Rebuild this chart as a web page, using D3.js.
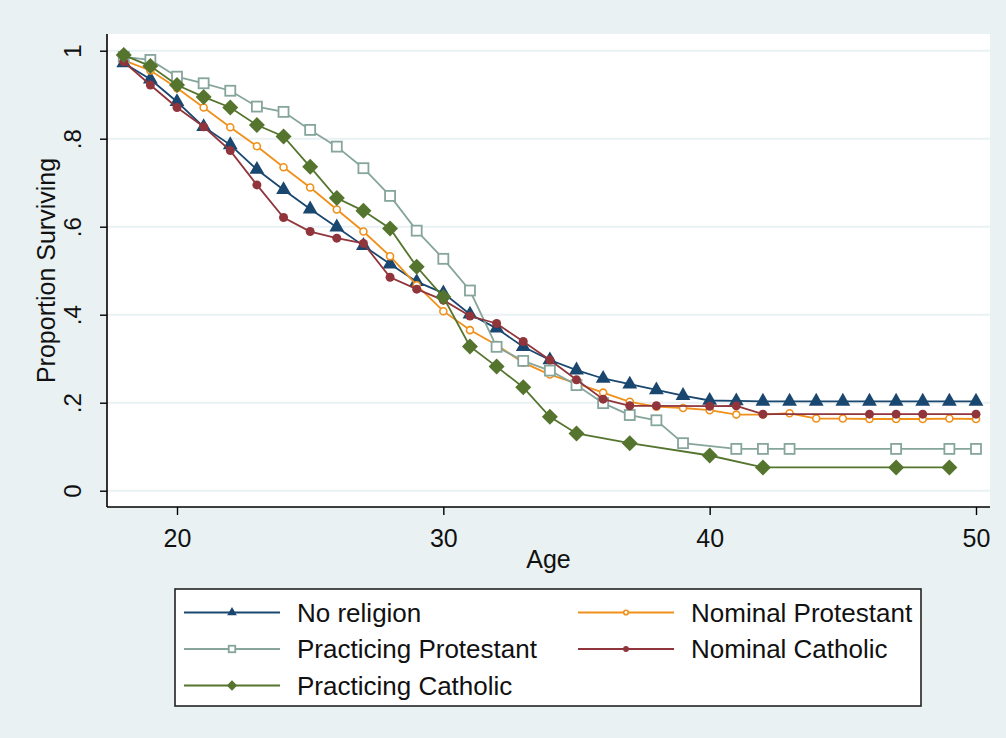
<!DOCTYPE html>
<html>
<head>
<meta charset="utf-8">
<script src="https://cdn.jsdelivr.net/npm/d3@7"></script>
<style>
  html, body { margin: 0; padding: 0; background: #e9f1f3; }
  svg text { font-family: "Liberation Sans", Arial, sans-serif; fill: #111; }
</style>
</head>
<body>
<div id="chart"></div>
<script>
// ages 18..50, null = no marker at that age
const ages = d3.range(18, 51);

const noReligion = [0.972, 0.935, 0.884, 0.827, 0.786, 0.730, 0.684, 0.640, 0.599, 0.557, 0.515, 0.475, 0.449, 0.401, 0.369,
  0.327, 0.297, 0.274, 0.255, 0.242, 0.229, 0.216, 0.205, 0.204, 0.203, 0.203, 0.203, 0.203, 0.203, 0.203, 0.203, 0.203, 0.203];
const nominalProtestant = [0.978, 0.955, 0.915, 0.871, 0.826, 0.783, 0.735, 0.689, 0.639, 0.589, 0.533, 0.467, 0.408, 0.365, 0.331,
  0.291, 0.264, 0.244, 0.223, 0.202, 0.191, 0.188, 0.183, 0.173, 0.173, 0.176, 0.164, 0.164, 0.163, 0.163, 0.163, 0.164, 0.163];
const practicingProtestant = [0.986, 0.979, 0.941, 0.926, 0.909, 0.873, 0.861, 0.820, 0.782, 0.733, 0.670, 0.591, 0.527, 0.455, 0.327,
  0.295, 0.273, 0.240, 0.199, 0.172, 0.160, 0.108, null, 0.095, 0.095, 0.095, null, null, null, 0.095, null, 0.095, 0.095];
const nominalCatholic = [0.975, 0.922, 0.871, 0.827, 0.773, 0.695, 0.621, 0.589, 0.574, 0.562, 0.485, 0.458, 0.433, 0.397, 0.380,
  0.339, 0.297, 0.252, 0.208, 0.193, 0.193, null, 0.192, 0.193, 0.174, null, null, null, 0.174, 0.174, 0.174, null, 0.174];
const practicingCatholic = [0.990, 0.965, 0.922, 0.895, 0.871, 0.831, 0.805, 0.736, 0.665, 0.636, 0.596, 0.509, 0.440, 0.328, 0.282,
  0.235, 0.168, 0.130, null, 0.108, null, null, 0.080, null, 0.053, null, null, null, null, 0.053, null, 0.053, null];

const seriesNames = ["No religion", "Nominal Protestant", "Practicing Protestant", "Nominal Catholic", "Practicing Catholic"];
const xTicks = [20, 30, 40, 50];
const yTicks = [0, 0.2, 0.4, 0.6, 0.8, 1];
const yTickLabels = ["0", ".2", ".4", ".6", ".8", "1"];

const series = [
  { name: seriesNames[0], values: noReligion, color: "#1a476f", marker: "triangle" },
  { name: seriesNames[1], values: nominalProtestant, color: "#f0901a", marker: "hcircle" },
  { name: seriesNames[2], values: practicingProtestant, color: "#86a59c", marker: "hsquare" },
  { name: seriesNames[3], values: nominalCatholic, color: "#90353b", marker: "circle" },
  { name: seriesNames[4], values: practicingCatholic, color: "#55752f", marker: "diamond" }
];

const W = 1006, H = 738;
const plot = { left: 107, right: 990, top: 34, bottom: 507 };

const svg = d3.select("#chart").append("svg")
  .attr("width", W).attr("height", H);

svg.append("rect").attr("width", W).attr("height", H).attr("fill", "#e9f1f3");
svg.append("rect")
  .attr("x", plot.left).attr("y", plot.top)
  .attr("width", plot.right - plot.left).attr("height", plot.bottom - plot.top)
  .attr("fill", "#fff");

const x = d3.scaleLinear().domain([20, 50]).range([177, 976]);
const y = d3.scaleLinear().domain([0, 1]).range([490.7, 50.7]);

// gridlines
svg.append("g").selectAll("line").data(yTicks).join("line")
  .attr("x1", plot.left).attr("x2", plot.right)
  .attr("y1", d => y(d)).attr("y2", d => y(d))
  .attr("stroke", "#eaf1f4").attr("stroke-width", 2);

// axes
const yAxis = svg.append("g")
  .attr("transform", `translate(${plot.left},0)`)
  .call(d3.axisLeft(y).tickValues(yTicks).tickSize(7).tickFormat((d, i) => yTickLabels[i]));
yAxis.select(".domain").attr("d", `M0,${plot.top}V${plot.bottom}`).attr("stroke", "#000").attr("stroke-width", 1.6);
yAxis.selectAll(".tick line").attr("stroke", "#000").attr("stroke-width", 1.4);
yAxis.selectAll(".tick text")
  .attr("font-size", 24).attr("x", null).attr("dy", null)
  .attr("text-anchor", "middle")
  .attr("transform", "translate(-35,0) rotate(-90)")
  .attr("dominant-baseline", "central");

const xAxis = svg.append("g")
  .attr("transform", `translate(0,${plot.bottom})`)
  .call(d3.axisBottom(x).tickValues(xTicks).tickSize(8).tickFormat(d3.format("d")));
xAxis.select(".domain").attr("d", `M${plot.left},0H${plot.right}`).attr("stroke", "#000").attr("stroke-width", 1.6);
xAxis.selectAll(".tick line").attr("stroke", "#000").attr("stroke-width", 1.4);
xAxis.selectAll(".tick text").attr("font-size", 25).attr("y", 40).attr("dy", null);

svg.append("text")
  .attr("x", (plot.left + plot.right) / 2).attr("y", 568)
  .attr("text-anchor", "middle").attr("font-size", 25)
  .text("Age");

svg.append("text")
  .attr("transform", `translate(55,${(plot.top + plot.bottom) / 2}) rotate(-90)`)
  .attr("text-anchor", "middle").attr("font-size", 25)
  .text("Proportion Surviving");

// markers
function drawMarker(g, type, color, k) {
  if (type === "triangle") {
    g.append("path").attr("d", d3.symbol(d3.symbolTriangle, 95 * k * k)()).attr("fill", color);
  } else if (type === "diamond") {
    const r = 8 * k;
    g.append("path").attr("d", `M0,${-r}L${r},0L0,${r}L${-r},0Z`).attr("fill", color);
  } else if (type === "hsquare") {
    const r = 5 * k;
    g.append("rect").attr("x", -r).attr("y", -r).attr("width", 2 * r).attr("height", 2 * r)
      .attr("fill", "#fff").attr("stroke", color).attr("stroke-width", 1.8);
  } else if (type === "hcircle") {
    g.append("circle").attr("r", 3.5 * k).attr("fill", "#fff").attr("stroke", color).attr("stroke-width", 1.6);
  } else {
    g.append("circle").attr("r", 4.5 * k).attr("fill", color);
  }
}

const line = d3.line().x(d => x(d.age)).y(d => y(d.v));

series.forEach(s => {
  const pts = ages.map((a, i) => ({ age: a, v: s.values[i] })).filter(d => d.v !== null);
  const g = svg.append("g");
  g.append("path").datum(pts).attr("d", line)
    .attr("fill", "none").attr("stroke", s.color).attr("stroke-width", 1.8);
  pts.forEach(d => {
    const m = g.append("g").attr("transform", `translate(${x(d.age)},${y(d.v)})`);
    drawMarker(m, s.marker, s.color, 1);
  });
});

// legend
const lg = svg.append("g");
lg.append("rect").attr("x", 175).attr("y", 589).attr("width", 746).attr("height", 117)
  .attr("fill", "#fff").attr("stroke", "#222").attr("stroke-width", 1.6);

const cols = [184, 578];
const rows = [612.5, 649, 685.5];
series.forEach((s, k) => {
  const cx = cols[k % 2], cy = rows[Math.floor(k / 2)];
  lg.append("line").attr("x1", cx).attr("x2", cx + 96).attr("y1", cy).attr("y2", cy)
    .attr("stroke", s.color).attr("stroke-width", 1.8);
  const m = lg.append("g").attr("transform", `translate(${cx + 48},${cy})`);
  drawMarker(m, s.marker, s.color, 0.65);
  lg.append("text").attr("x", cx + 113).attr("y", cy).attr("dy", "0.35em")
    .attr("font-size", 26).text(s.name);
});
</script>
</body>
</html>
